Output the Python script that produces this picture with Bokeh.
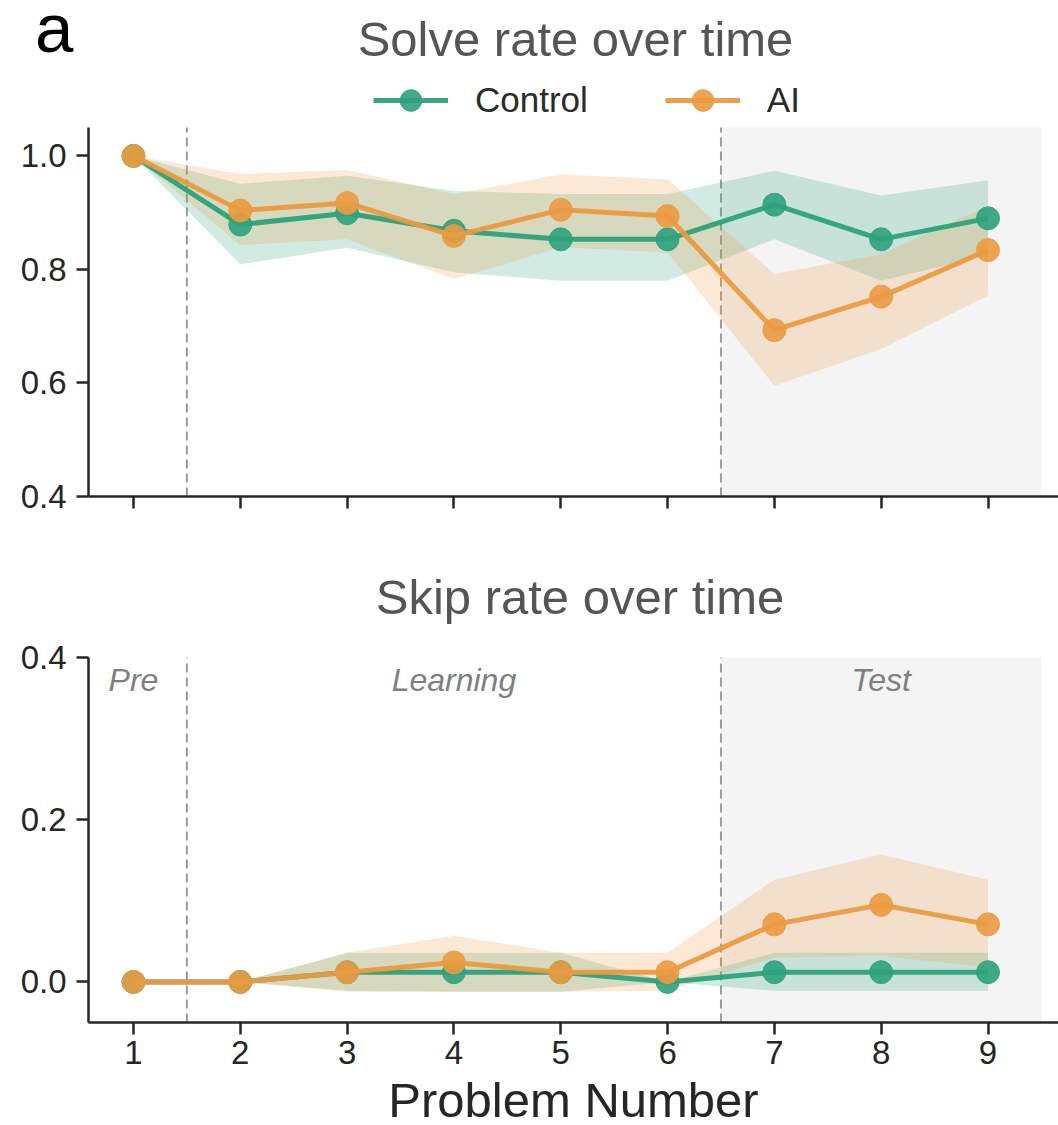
from bokeh.plotting import figure
from bokeh.layouts import column
from bokeh.models import (BoxAnnotation, Label, Legend, LegendItem, Div,
                          FixedTicker, Range1d, NumeralTickFormatter)
from bokeh.embed import file_html
from bokeh.resources import INLINE

# ---- data -------------------------------------------------------------
problems = [1, 2, 3, 4, 5, 6, 7, 8, 9]

solve_control = [1.0, 0.879, 0.899, 0.868, 0.853, 0.853, 0.914, 0.853, 0.890]
solve_control_lo = [1.0, 0.809, 0.838, 0.795, 0.780, 0.780, 0.853, 0.780, 0.825]
solve_control_hi = [1.0, 0.951, 0.965, 0.938, 0.933, 0.933, 0.974, 0.930, 0.957]

solve_ai = [1.0, 0.904, 0.917, 0.859, 0.905, 0.894, 0.693, 0.752, 0.834]
solve_ai_lo = [1.0, 0.843, 0.853, 0.783, 0.839, 0.830, 0.595, 0.660, 0.754]
solve_ai_hi = [1.0, 0.968, 0.975, 0.933, 0.967, 0.959, 0.792, 0.827, 0.912]

skip_control = [0.0, 0.0, 0.012, 0.012, 0.012, 0.0, 0.012, 0.012, 0.012]
skip_control_lo = [0.0, 0.0, -0.011, -0.012, -0.012, 0.0, -0.011, -0.011, -0.011]
skip_control_hi = [0.0, 0.0, 0.036, 0.036, 0.036, 0.0, 0.036, 0.036, 0.036]

skip_ai = [0.0, 0.0, 0.012, 0.024, 0.012, 0.012, 0.071, 0.095, 0.071]
skip_ai_lo = [0.0, 0.0, -0.012, -0.012, -0.012, -0.011, 0.030, 0.032, 0.018]
skip_ai_hi = [0.0, 0.0, 0.036, 0.057, 0.036, 0.036, 0.126, 0.157, 0.126]

solve_limits = (0.4, 1.05)
skip_limits = (-0.05, 0.4)
solve_ticks = [0.4, 0.6, 0.8, 1.0]
skip_ticks = [0.0, 0.2, 0.4]

group_names = ["Control", "AI"]
phase_names = ["Pre", "Learning", "Test"]
phase_centers = [1, 4, 8]
phase_bounds = [1.5, 6.5]
test_end = 9.5

# ---- style / layout constants (page pixels) ----------------------------
FONT = "Liberation Sans"
GREEN = "#2ca27c"
ORANGE = "#eb9a40"
AXIS = "#262626"
TITLE = "#555555"
PAGE_W = 1058
FRAME_W = 970
LEFT = 88

HEAD1_H = 73          # panel letter + first title
LEGEND_H = 54         # legend strip on top of the solve-rate axes
TOP_AXES_H = 369
TOP_BOTTOM = 60
BOTTOM_TOP = 22
HEAD2_H = 657 - HEAD1_H - LEGEND_H - TOP_AXES_H - TOP_BOTTOM - BOTTOM_TOP
BOTTOM_FRAME_H = 365


def text_span(text, left, baseline, size, color, center=False):
    # line-height 0.8 puts the baseline 0.7465 em below the box top
    top = baseline - 0.7465 * size
    shift = "transform:translateX(-50%);" if center else ""
    return (f'<span style="position:absolute;left:{left}px;top:{top:.1f}px;'
            f'{shift}white-space:nowrap;font-family:\'{FONT}\';'
            f'font-size:{size}px;line-height:0.8;color:{color};">{text}</span>')


def header(height, spans):
    html = (f'<div style="position:relative;width:{PAGE_W}px;height:{height}px;'
            f'margin:0;padding:0;">' + "".join(spans) + "</div>")
    return Div(text=html, width=PAGE_W, height=height, margin=0)


def style_axes(p, yticks, limits, show_xlabels):
    p.xgrid.visible = False
    p.ygrid.visible = False
    p.outline_line_color = None
    for ax in (p.xaxis[0], p.yaxis[0]):
        ax.axis_line_color = AXIS
        ax.axis_line_width = 2.5
        ax.major_tick_line_color = AXIS
        ax.major_tick_line_width = 2.5
        ax.major_tick_out = 12
        ax.major_tick_in = 0
        ax.minor_tick_line_color = None
        ax.major_label_text_font = FONT
        ax.major_label_text_font_size = "33px"
        ax.major_label_text_color = AXIS
    p.yaxis[0].ticker = FixedTicker(ticks=yticks)
    p.yaxis[0].formatter = NumeralTickFormatter(format="0.0")
    p.yaxis[0].major_label_standoff = 10
    p.yaxis[0].bounds = limits
    p.xaxis[0].ticker = FixedTicker(ticks=problems)
    if show_xlabels:
        p.xaxis[0].major_label_standoff = 6
    else:
        p.xaxis[0].major_label_overrides = {k: "" for k in problems}
        p.xaxis[0].major_label_standoff = 0


def add_phases(p, limits):
    lo, hi = limits
    p.add_layout(BoxAnnotation(left=phase_bounds[1], right=test_end,
                               bottom=lo, top=hi,
                               fill_color="#f4f4f4", fill_alpha=1.0,
                               line_color=None, level="underlay"))
    p.segment(x0=phase_bounds, y0=[lo] * len(phase_bounds),
              x1=phase_bounds, y1=[hi] * len(phase_bounds),
              line_color="#9c9c9c", line_width=2, line_dash="9 5")


def add_series(p, ctl, ctl_lo, ctl_hi, ai, ai_lo, ai_hi):
    p.varea(x=problems, y1=ctl_lo, y2=ctl_hi, fill_color=GREEN, fill_alpha=0.22)
    p.varea(x=problems, y1=ai_lo, y2=ai_hi, fill_color=ORANGE, fill_alpha=0.22)
    out = []
    for vals, col in ((ctl, GREEN), (ai, ORANGE)):
        lr = p.line(problems, vals, line_color=col, line_width=5, line_alpha=0.95)
        sr = p.scatter(problems, vals, size=23, fill_color=col, line_color=col,
                       fill_alpha=0.9, line_alpha=0.9)
        out.append([lr, sr])
    return out


def panel(frame_h, y_range, limits, top_border, bottom_border, yticks,
          show_xlabels, x_range):
    p = figure(frame_width=FRAME_W, frame_height=frame_h, title=None,
               x_range=x_range, y_range=y_range,
               min_border_left=LEFT, min_border_right=0,
               min_border_top=top_border, min_border_bottom=bottom_border,
               output_backend="svg", toolbar_location=None,
               background_fill_color="white", border_fill_color="white")
    style_axes(p, yticks, limits, show_xlabels)
    add_phases(p, limits)
    return p


# ---- header: panel letter and first title ------------------------------
head1 = header(HEAD1_H, [
    text_span("a", 35, 52, 69, "#000000"),
    text_span("Solve rate over time", 575.5, 57, 49, TITLE, center=True),
])

# ---- solve-rate panel; its frame also holds the legend strip ----------
shared_x = Range1d(0.579, 9.66)
lo, hi = solve_limits
top_end = lo + (hi - lo) * (TOP_AXES_H + LEGEND_H) / TOP_AXES_H
top = panel(TOP_AXES_H + LEGEND_H, Range1d(lo, top_end), solve_limits,
            0, TOP_BOTTOM, solve_ticks, False, shared_x)
series = add_series(top, solve_control, solve_control_lo, solve_control_hi,
                    solve_ai, solve_ai_lo, solve_ai_hi)

legend = Legend(items=[LegendItem(label=n, renderers=r)
                       for n, r in zip(group_names, series)],
                orientation="horizontal", location=(285, TOP_AXES_H),
                glyph_width=75, glyph_height=LEGEND_H, label_standoff=27,
                spacing=77, padding=0, margin=0, border_line_color=None,
                background_fill_alpha=0.0, label_text_font=FONT,
                label_text_font_size="35px", label_text_color="#2b2b2b")
top.add_layout(legend, "center")

# ---- second title ------------------------------------------------------
head2 = header(HEAD2_H, [
    text_span("Skip rate over time", 580, HEAD2_H - 20, 49, TITLE, center=True),
])

# ---- skip-rate panel ---------------------------------------------------
bottom = panel(BOTTOM_FRAME_H, Range1d(*skip_limits), skip_limits,
               BOTTOM_TOP, 103, skip_ticks, True, shared_x)
add_series(bottom, skip_control, skip_control_lo, skip_control_hi,
           skip_ai, skip_ai_lo, skip_ai_hi)

bottom.xaxis[0].axis_label = "Problem Number"
bottom.xaxis[0].axis_label_text_font = FONT
bottom.xaxis[0].axis_label_text_font_size = "49px"
bottom.xaxis[0].axis_label_text_font_style = "normal"
bottom.xaxis[0].axis_label_text_color = AXIS
bottom.xaxis[0].axis_label_standoff = 6

for name, cx in zip(phase_names, phase_centers):
    bottom.add_layout(Label(x=cx, y=0.372, text=name, text_align="center",
                            text_baseline="middle", text_font=FONT,
                            text_font_size="32px", text_font_style="italic",
                            text_color="#7f7f7f"))

layout = column(head1, top, head2, bottom, spacing=0)

with open("out.html", "w") as f:
    f.write(file_html(layout, INLINE))
